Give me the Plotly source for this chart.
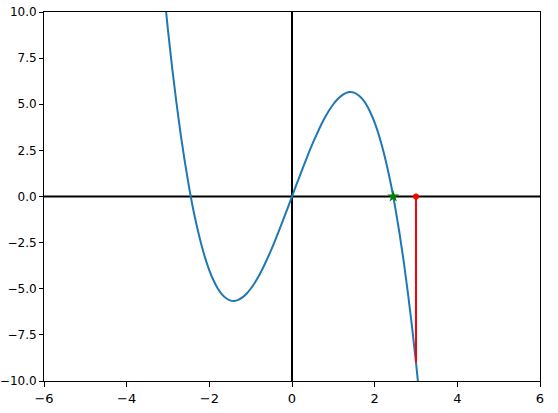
import plotly.graph_objects as go

# curve samples
curve_x = [-3.1, -3.0, -2.9, -2.8, -2.7, -2.6, -2.5, -2.4, -2.3, -2.2, -2.1, -2.0, -1.9, -1.8, -1.7, -1.6,
           -1.5, -1.4, -1.3, -1.2, -1.1, -1.0, -0.9, -0.8, -0.7, -0.6, -0.5, -0.4, -0.3, -0.2, -0.1, 0.0,
           0.1, 0.2, 0.3, 0.4, 0.5, 0.6, 0.7, 0.8, 0.9, 1.0, 1.1, 1.2, 1.3, 1.4, 1.5, 1.6, 1.7, 1.8, 1.9,
           2.0, 2.1, 2.2, 2.3, 2.4, 2.5, 2.6, 2.7, 2.8, 2.9, 3.0, 3.1]
curve_y = [11.19, 9.0, 6.99, 5.15, 3.48, 1.98, 0.63, -0.58, -1.63, -2.55, -3.34, -4.0, -4.54, -4.97, -5.29, -5.50,
           -5.63, -5.66, -5.60, -5.47, -5.27, -5.0, -4.67, -4.29, -3.86, -3.38, -2.88, -2.34, -1.77, -1.19, -0.60, 0.0,
           0.60, 1.19, 1.77, 2.34, 2.88, 3.38, 3.86, 4.29, 4.67, 5.0, 5.27, 5.47, 5.60, 5.66, 5.63, 5.50, 5.29, 4.97, 4.54,
           4.0, 3.34, 2.55, 1.63, 0.58, -0.63, -1.98, -3.48, -5.15, -6.99, -9.0, -11.19]

root_x = [2.449]
root_y = [0.0]
guess_x = [3.0]
guess_y = [0.0]
guess_val = -9.0

x_ticks = [-6, -4, -2, 0, 2, 4, 6]
y_ticks = [-10.0, -7.5, -5.0, -2.5, 0.0, 2.5, 5.0, 7.5, 10.0]

fig = go.Figure()
# axes through origin
fig.add_trace(go.Scatter(x=[-6, 6], y=[0, 0], mode="lines", line=dict(color="black", width=2), hoverinfo="skip"))
fig.add_trace(go.Scatter(x=[0, 0], y=[-10, 10], mode="lines", line=dict(color="black", width=2), hoverinfo="skip"))
fig.add_trace(go.Scatter(x=curve_x, y=curve_y, mode="lines", line=dict(color="#1f77b4", width=2, shape="spline")))
fig.add_trace(go.Scatter(x=[guess_x[0], guess_x[0]], y=[guess_y[0], guess_val], mode="lines",
                         line=dict(color="red", width=2)))
fig.add_trace(go.Scatter(x=guess_x, y=guess_y, mode="markers", marker=dict(color="red", size=6, symbol="circle"),
                         cliponaxis=False))
fig.add_trace(go.Scatter(x=root_x, y=root_y, mode="markers", marker=dict(color="green", size=9, symbol="star"),
                         cliponaxis=False))

axis_common = dict(showgrid=False, zeroline=False, showline=True, linecolor="black", linewidth=1, mirror=True,
                   ticks="outside", tickwidth=1, tickcolor="black")
fig.update_xaxes(range=[-6, 6], tickvals=x_ticks, ticklen=5,
                 tickfont=dict(family="DejaVu Sans", size=13, color="black"), **axis_common)
fig.update_yaxes(range=[-10, 10], tickvals=y_ticks, tickformat=".1f", ticklen=4,
                 tickfont=dict(family="DejaVu Sans", size=12, color="black"), **axis_common)
fig.update_layout(width=558, height=413, showlegend=False, plot_bgcolor="white", paper_bgcolor="white",
                  margin=dict(l=44, r=18, t=12, b=32, autoexpand=False))
fig.write_html("out.html", config={"displayModeBar": False},
               post_script="document.body.style.margin='0';")
